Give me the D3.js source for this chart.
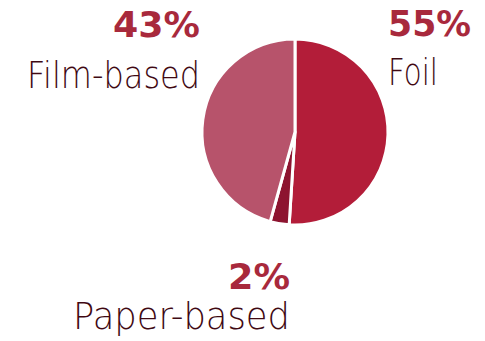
<html>
<head>
<meta charset="utf-8" />
<script src="https://d3js.org/d3.v7.min.js"></script>
<style>
  body { margin: 0; background: #fff; }
  .pct { font-family: "DejaVu Sans", sans-serif; font-weight: bold; fill: #a8293c; }
  .name { font-family: "DejaVu Sans", sans-serif; font-weight: 200; fill: #3f0913; }
</style>
</head>
<body>
<script>
// slice shares as drawn, and the labels printed beside them
var categories = ["Foil", "Paper-based", "Film-based"];
var shares = [51, 3.3, 45.7];
var pctLabels = ["55%", "2%", "43%"];
var colors = ["#b31d39", "#8d1430", "#b7536b"];

var width = 485, height = 341;
var cx = 295, cy = 132, r = 93;

var svg = d3.select("body").append("svg")
  .attr("width", width).attr("height", height);

var pie = d3.pie().sort(null).value(d => d);
var arc = d3.arc().innerRadius(0).outerRadius(r);

svg.append("g")
  .attr("transform", `translate(${cx},${cy})`)
  .selectAll("path")
  .data(pie(shares)).enter()
  .append("path")
  .attr("d", arc)
  .attr("fill", (d, i) => colors[i])
  .attr("stroke", "#fff")
  .attr("stroke-width", 3)
  .attr("stroke-linejoin", "round");

// label spots: x, pct baseline, name baseline, anchor, pct width, name width
var spots = [
  [388, 36, 85, "start", 83, 50],
  [290, 289, 329, "end", 62, 217],
  [200, 37, 88, "end", 87, 173]
];

categories.forEach(function(c, i) {
  var s = spots[i];
  svg.append("text").attr("class", "pct")
    .attr("x", s[0]).attr("y", s[1])
    .attr("text-anchor", s[3])
    .attr("font-size", "35px")
    .attr("textLength", s[4])
    .attr("lengthAdjust", "spacingAndGlyphs")
    .text(pctLabels[i]);
  svg.append("text").attr("class", "name")
    .attr("x", s[0]).attr("y", s[2])
    .attr("text-anchor", s[3])
    .attr("font-size", "38px")
    .attr("textLength", s[5])
    .attr("lengthAdjust", "spacingAndGlyphs")
    .text(c);
});
</script>
</body>
</html>
